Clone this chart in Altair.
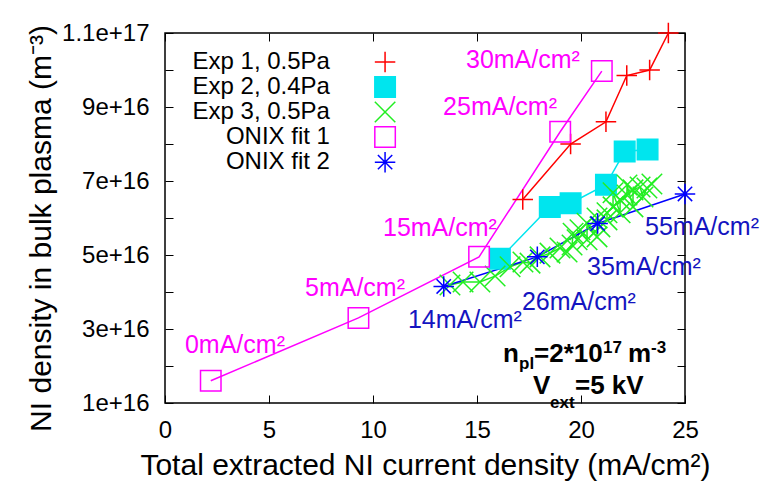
import altair as alt
import pandas as pd

FONT = "Liberation Sans"

series_names = ["Exp 1, 0.5Pa", "Exp 2, 0.4Pa", "Exp 3, 0.5Pa", "ONIX fit 1", "ONIX fit 2"]

exp1_x = [17.2, 19.5, 21.2, 22.2, 23.3, 24.2]
exp1_y = [6.5e16, 8.0e16, 8.6e16, 9.85e16, 1.0e17, 1.1e17]

exp2_x = [16.1, 18.5, 19.5, 21.2, 22.1, 23.2]
exp2_y = [4.9e16, 6.3e16, 6.4e16, 6.9e16, 7.8e16, 7.85e16]

exp3_x = [13.70, 14.33, 15.14, 15.87, 16.59, 17.21, 17.55, 18.03, 18.51, 18.99, 19.33,
          19.57, 19.62, 19.81, 19.95, 20.29, 20.29, 20.77, 20.77, 20.91, 21.25, 21.25,
          21.54, 21.54, 21.88, 21.88, 22.21, 22.21, 22.5, 22.5, 22.84, 22.98, 23.17, 23.41]
exp3_y = [4.19e16, 4.27e16, 4.27e16, 4.43e16, 4.68e16, 4.81e16, 4.78e16, 4.95e16, 5.05e16,
          5.19e16, 5.08e16, 5.27e16, 5.59e16, 5.41e16, 5.68e16, 5.41e16, 5.86e16, 5.49e16,
          6.0e16, 5.76e16, 5.95e16, 6.14e16, 6.30e16, 6.68e16, 6.14e16, 6.49e16, 6.62e16,
          6.89e16, 6.30e16, 6.76e16, 6.84e16, 6.57e16, 6.81e16, 6.92e16]

fit1_x = [2.2, 9.3, 15.1, 19.0, 21.0]
fit1_y = [1.6e16, 3.3e16, 4.95e16, 8.33e16, 9.97e16]

fit2_x = [13.4, 17.9, 20.8, 25.0]
fit2_y = [4.15e16, 4.95e16, 5.85e16, 6.65e16]

stroke_colors = ["#ff0000", "#00e5ee", "#22ee22", "#ff00ff", "#0000ff"]
fill_colors = ["transparent", "#00e5ee", "transparent", "transparent", "transparent"]
PLUS = "M-1,0L1,0M0,-1L0,1"
XSHAPE = "M-1,-1L1,1M-1,1L1,-1"
STAR = "M-1,0L1,0M0,-1L0,1M-0.7,-0.7L0.7,0.7M-0.7,0.7L0.7,-0.7"
shapes = [PLUS, "square", XSHAPE, "square", STAR]

# legend key placement (data coordinates)
legend_label_x = 7.93
legend_symbol_x = 10.58
legend_y = [1.0216e17, 9.54e16, 8.865e16, 8.19e16, 7.51e16]

# annotations (data coordinates)
ann_text = ["0mA/cm²", "5mA/cm²", "15mA/cm²", "25mA/cm²", "30mA/cm²",
            "14mA/cm²", "26mA/cm²", "35mA/cm²", "55mA/cm²"]
ann_x = [0.96, 6.73, 10.48, 13.37, 14.47, 11.68, 17.16, 20.29, 23.08]
ann_y = [2.57e16, 4.11e16, 5.73e16, 9.0e16, 1.027e17, 3.24e16, 3.73e16, 4.68e16, 5.76e16]
ann_color = ["#ff00ff"] * 5 + ["#1414c0"] * 4

big_text = ["n", "=2*10", "m", "V", "=5 kV"]
big_x = [16.25, 17.74, 22.26, 17.69, 19.71]
big_y = [2.108e16, 2.108e16, 2.108e16, 1.243e16, 1.243e16]

small_text = ["pl", "17", "-3", "ext"]
small_x = [17.02, 21.06, 23.37, 18.51]
small_y = [1.919e16, 2.35e16, 2.35e16, 0.865e16]

x_ticks = [0, 5, 10, 15, 20, 25]
y_ticks = [1e16, 2e16, 3e16, 4e16, 5e16, 6e16, 7e16, 8e16, 9e16, 1e17, 1.1e17]

rows = []
for name, xs_, ys_ in zip(series_names, [exp1_x, exp2_x, exp3_x, fit1_x, fit2_x],
                          [exp1_y, exp2_y, exp3_y, fit1_y, fit2_y]):
    for i, (a, b) in enumerate(zip(xs_, ys_)):
        rows.append({"series": name, "x": a, "y": b, "i": i})
df = pd.DataFrame(rows)

leg_df = pd.DataFrame({"series": series_names, "lx": [legend_label_x] * 5,
                       "sx": [legend_symbol_x] * 5, "y": legend_y})
ann_df = pd.DataFrame({"text": ann_text, "x": ann_x, "y": ann_y, "color": ann_color})
big_df = pd.DataFrame({"text": big_text, "x": big_x, "y": big_y})
small_df = pd.DataFrame({"text": small_text, "x": small_x, "y": small_y})

xs = alt.Scale(domain=[0, 25], nice=False, zero=False)
ys = alt.Scale(domain=[1e16, 1.1e17], nice=False, zero=False)

W, H = 520, 370


def tick_axis(orient, offset, values):
    return alt.Axis(orient=orient, offset=offset, values=values, labels=False, domain=False,
                    ticks=True, tickSize=8, tickColor="black", tickWidth=1, grid=False, title=None)


x_label_axis = alt.Axis(values=x_ticks, ticks=False, domain=False, grid=False,
                        labelFontSize=24, labelFont=FONT, labelColor="black", labelPadding=15,
                        labelFlush=False, labelOverlap=False,
                        title="Total extracted NI current density (mA/cm²)",
                        titleFontSize=30, titleFont=FONT, titleFontWeight="normal",
                        titleColor="black", titlePadding=8)
y_label_axis = alt.Axis(values=y_ticks, ticks=False, domain=False, grid=False, format="~e",
                        labelExpr="round(datum.value/1e16) % 2 == 1 ? datum.label : ''",
                        labelFontSize=24, labelFont=FONT, labelColor="black", labelPadding=16,
                        labelOverlap=False, labelFlush=False,
                        title="NI density in bulk plasma (m⁻³)", titleY=195,
                        titleFontSize=30, titleFont=FONT, titleFontWeight="normal",
                        titleColor="black", titlePadding=5)

stroke_scale = alt.Scale(domain=series_names, range=stroke_colors)
fill_scale = alt.Scale(domain=series_names, range=fill_colors)
shape_scale = alt.Scale(domain=series_names, range=shapes)

lines = alt.Chart(df).mark_line(strokeWidth=1.5).encode(
    x=alt.X("x:Q", scale=xs, axis=x_label_axis),
    y=alt.Y("y:Q", scale=ys, axis=y_label_axis),
    stroke=alt.Stroke("series:N", scale=stroke_scale, legend=None),
    detail="series:N",
    order="x:Q",
)

points = alt.Chart(df).mark_point(strokeWidth=1.5, opacity=1, size=420).encode(
    x=alt.X("x:Q", scale=xs, axis=tick_axis("bottom", -H, x_ticks)),
    y=alt.Y("y:Q", scale=ys, axis=tick_axis("left", -W, y_ticks)),
    stroke=alt.Stroke("series:N", scale=stroke_scale, legend=None),
    fill=alt.Fill("series:N", scale=fill_scale, legend=None),
    shape=alt.Shape("series:N", scale=shape_scale, legend=None),
)

leg_symbols = alt.Chart(leg_df).mark_point(strokeWidth=1.5, opacity=1, size=420).encode(
    x=alt.X("sx:Q", scale=xs, axis=None),
    y=alt.Y("y:Q", scale=ys, axis=None),
    stroke=alt.Stroke("series:N", scale=stroke_scale, legend=None),
    fill=alt.Fill("series:N", scale=fill_scale, legend=None),
    shape=alt.Shape("series:N", scale=shape_scale, legend=None),
)

leg_labels = alt.Chart(leg_df).mark_text(fontSize=24, font=FONT, align="right",
                                         baseline="middle", color="black").encode(
    x=alt.X("lx:Q", scale=xs, axis=None),
    y=alt.Y("y:Q", scale=ys, axis=None),
    text="series:N",
)

ann = alt.Chart(ann_df).mark_text(fontSize=25, font=FONT, align="left", baseline="middle").encode(
    x=alt.X("x:Q", scale=xs, axis=tick_axis("top", -H, x_ticks)),
    y=alt.Y("y:Q", scale=ys, axis=tick_axis("right", -W, y_ticks)),
    text="text:N",
    color=alt.Color("color:N", scale=None),
)

big = alt.Chart(big_df).mark_text(fontSize=26, font=FONT, fontWeight="bold", align="left",
                                  baseline="alphabetic", color="black").encode(
    x=alt.X("x:Q", scale=xs, axis=None),
    y=alt.Y("y:Q", scale=ys, axis=None),
    text="text:N",
)

small = alt.Chart(small_df).mark_text(fontSize=17, font=FONT, fontWeight="bold", align="left",
                                      baseline="alphabetic", color="black").encode(
    x=alt.X("x:Q", scale=xs, axis=None),
    y=alt.Y("y:Q", scale=ys, axis=None),
    text="text:N",
)

chart = alt.layer(lines, points, ann, leg_symbols, leg_labels, big, small).resolve_axis(
    x="independent", y="independent"
).properties(
    width=W, height=H,
    autosize=alt.AutoSizeParams(type="none"),
    padding={"left": 157, "top": 25, "right": 76, "bottom": 80},
).configure(font=FONT).configure_view(stroke="black", strokeWidth=1.5)

chart.save("out.html", embed_options={"renderer": "svg", "actions": False})
